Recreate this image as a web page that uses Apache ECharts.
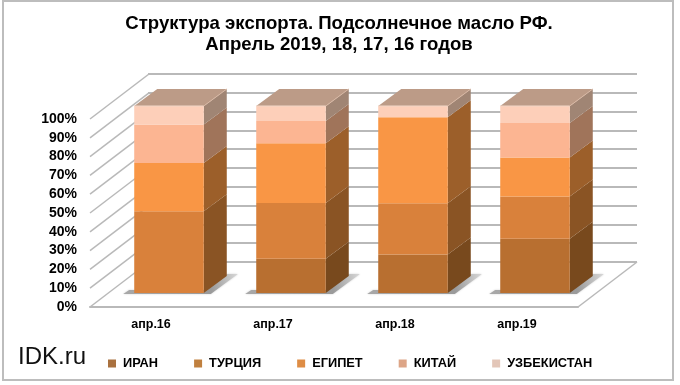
<!DOCTYPE html>
<html><head><meta charset="utf-8">
<style>html,body{margin:0;padding:0;background:#fff}#c{width:680px;height:385px}</style>
<script src="https://cdn.jsdelivr.net/npm/echarts@6/dist/echarts.min.js"></script>
</head><body><div id="c"></div>
<script>
const categories = ['апр.16','апр.17','апр.18','апр.19'];
const iran = [0, 18.3, 20.6, 29];
const turkey = [43.7, 29.8, 27.4, 22.6];
const egypt = [25.8, 32, 46, 20.8];
const china = [20.6, 11.9, 0, 18.5];
const uzbekistan = [9.9, 8, 6, 9.1];
const seriesNames = ['ИРАН','ТУРЦИЯ','ЕГИПЕТ','КИТАЙ','УЗБЕКИСТАН'];
const seriesValues = [iran, turkey, egypt, china, uzbekistan];
const percentTicks = [0,10,20,30,40,50,60,70,80,90,100];
const titleText = 'Структура экспорта. Подсолнечное масло РФ.\nАпрель 2019, 18, 17, 16 годов';

const front = ['#B86F30','#D9813B','#F99645','#FCB592','#FDCFB9'];
const side = ['#78491D','#8A5424','#9C5F2A','#A0745A','#A08574'];
const legendCol = ['#A9713F','#C0803F','#DE8D45','#DDA587','#E3C6B8'];
const GRID_COLOR = '#b9b9b9';
const BAR_DX = 23, BAR_DY = 17, WALL_DX = 59, WALL_DY = 45;

const chart = echarts.init(document.getElementById('c'), null, {renderer:'canvas'});

function barItem(si){
  return function(params, api){
    const cat = api.value(0), base = api.value(1), val = api.value(2);
    if(!val) return {type:'group',children:[]};
    const p0 = api.coord([cat, base]), p1 = api.coord([cat, base+val]);
    const w = api.size([1,0])[0]*0.57;
    const x0 = p0[0]-w/2, x1 = p0[0]+w/2, yb = p0[1], yt = p1[1];
    const children = [
      {type:'polygon',shape:{points:[[x1,yb],[x1+BAR_DX,yb-BAR_DY],[x1+BAR_DX,yt-BAR_DY],[x1,yt]]},style:{fill:side[si]}},
      {type:'rect',shape:{x:x0,y:yt,width:w,height:yb-yt},style:{fill:front[si]}}
    ];
    if(si===seriesNames.length-1){
      children.push({type:'polygon',shape:{points:[[x0,yt],[x1,yt],[x1+BAR_DX,yt-BAR_DY],[x0+BAR_DX,yt-BAR_DY]]},style:{fill:'#BC9B87'}});
      children.push({type:'polyline',shape:{points:[[x1,yt],[x1+BAR_DX,yt-BAR_DY]]},style:{stroke:'#D8B8A4',lineWidth:1,fill:null}});
      children.push({type:'polyline',shape:{points:[[x0,yt],[x1,yt]]},style:{stroke:'#F2D6C6',lineWidth:1,fill:null}});
    }
    return {type:'group',children};
  };
}

const barSeries = seriesNames.map((name,si)=>{
  const data = categories.map((c,ci)=>{
    let base=0; for(let k=0;k<si;k++) base+=seriesValues[k][ci];
    return [ci, base, seriesValues[si][ci]];
  });
  return {type:'custom',name,xAxisIndex:1,yAxisIndex:1,z:5,clip:false,silent:true,
    itemStyle:{color:legendCol[si],borderColor:legendCol[si]},
    renderItem:barItem(si),encode:{x:0,y:1},data};
});

const shadowSeries = {type:'custom',xAxisIndex:1,yAxisIndex:1,z:4,clip:false,silent:true,
  renderItem(params,api){
    const p=api.coord([api.value(0),0]), w=api.size([1,0])[0]*0.57;
    const x0=p[0]-w/2,x1=p[0]+w/2,y=p[1];
    return {type:'polygon',shape:{points:[[x0-11,y+1],[x1+7,y+1],[x1+BAR_DX+11,y-BAR_DY-2],[x1+BAR_DX,y-BAR_DY-2],[x1,y-3],[x0-5,y-3]]},
      style:{fill:{type:'linear',x:0,y:1,x2:1,y2:0,colorStops:[{offset:0,color:'#a8a8a8'},{offset:0.75,color:'#9a9a9a'},{offset:1,color:'#d8d8d8'}]},shadowBlur:2,shadowColor:'#ccc'}};
  },data:categories.map((c,i)=>[i,0]),encode:{x:0,y:1}};

const wallSeries = {type:'custom',xAxisIndex:0,yAxisIndex:0,z:2,clip:false,silent:true,
  renderItem(params,api){
    const p=api.coord([0,api.value(0)]), x=params.coordSys.x;
    return {type:'line',shape:{x1:x,y1:p[1],x2:x+WALL_DX,y2:p[1]-WALL_DY},style:{stroke:GRID_COLOR,lineWidth:1.5}};
  },data:percentTicks.map(v=>[v]),encode:{y:0}};

const floorEdge = {type:'custom',xAxisIndex:0,yAxisIndex:0,z:2,clip:false,silent:true,
  renderItem(params,api){
    const c=params.coordSys,y=api.coord([0,0])[1];
    return {type:'line',shape:{x1:c.x+c.width,y1:y,x2:c.x+c.width+WALL_DX,y2:y-WALL_DY},style:{stroke:GRID_COLOR,lineWidth:1.5}};
  },data:[[0]],encode:{y:0}};

const lab = {fontFamily:'Liberation Sans',fontWeight:'bold',color:'#000'};

chart.setOption({
  animation:false,
  backgroundColor:'#fff',
  title:[
    {text:titleText,left:339,top:13,padding:0,textAlign:'center',textStyle:{...lab,fontSize:18.6,lineHeight:21}},
    {text:'IDK.ru',left:18,top:345,padding:0,textStyle:{fontFamily:'Liberation Sans',fontWeight:'normal',fontSize:24,color:'#111'}}
  ],
  legend:{left:108,top:357,padding:0,itemWidth:8,itemHeight:8,itemGap:36,icon:'rect',selectedMode:false,
    data:seriesNames,textStyle:{...lab,fontSize:12.8,padding:[0,0,0,2]}},
  grid:[
    {left:90,top:119,width:488,height:188},
    {left:108,top:106,width:488,height:187},
    {left:148,top:74,width:489,height:188}
  ],
  xAxis:[
    {type:'category',gridIndex:0,data:categories,axisTick:{show:false},
      axisLine:{lineStyle:{color:GRID_COLOR,width:2}},axisLabel:{...lab,fontSize:12.5,margin:11}},
    {type:'category',gridIndex:1,data:categories,show:false},
    {type:'category',gridIndex:2,data:categories,show:false}
  ],
  yAxis:[
    {type:'value',gridIndex:0,min:0,max:100,interval:10,axisLine:{show:false},axisTick:{show:false},splitLine:{show:false},
      axisLabel:{...lab,fontSize:14,margin:13,padding:[2,0,0,0],formatter:'{value}%'}},
    {type:'value',gridIndex:1,min:0,max:100,interval:10,show:false,splitLine:{show:false}},
    {type:'value',gridIndex:2,min:0,max:100,interval:10,axisLine:{show:false},axisTick:{show:false},axisLabel:{show:false},
      splitLine:{show:true,lineStyle:{color:GRID_COLOR,width:2}}}
  ],
  series:[wallSeries,floorEdge,shadowSeries,...barSeries],
  graphic:[{type:'rect',z:0,silent:true,shape:{x:3,y:1,width:670,height:379},style:{fill:'none',stroke:'#bdbdbd',lineWidth:2}}]
});
</script></body></html>
